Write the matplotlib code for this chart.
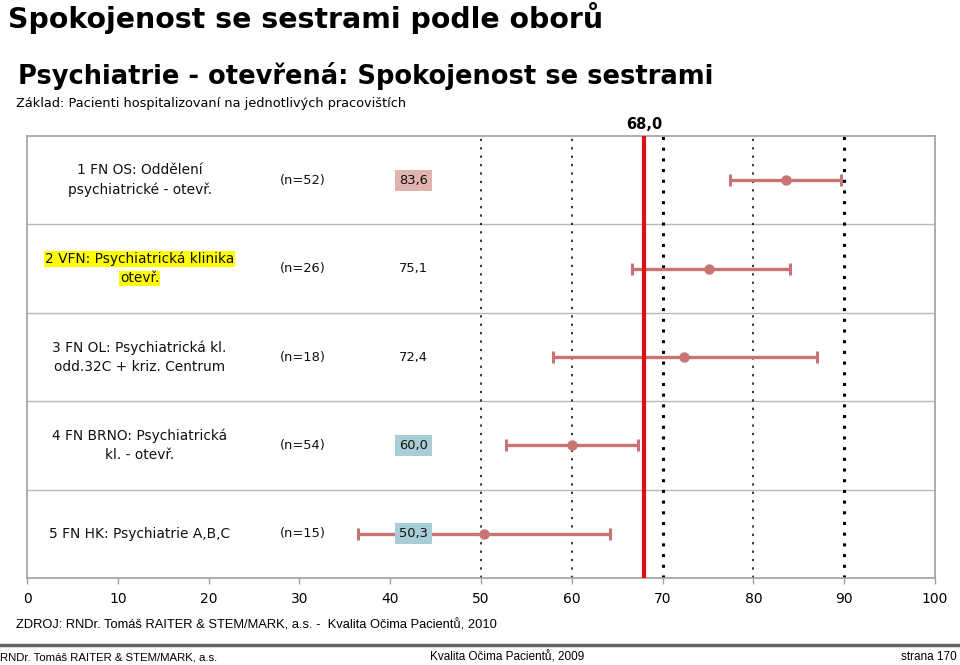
import matplotlib
matplotlib.use("Agg")
import matplotlib.pyplot as plt

# ---- data ----
labels = ["1 FN OS: Oddělení\npsychiatrické - otevř.",
          "2 VFN: Psychiatrická klinika\notevř.",
          "3 FN OL: Psychiatrická kl.\nodd.32C + kriz. Centrum",
          "4 FN BRNO: Psychiatrická\nkl. - otevř.",
          "5 FN HK: Psychiatrie A,B,C"]
n_labels = ["(n=52)", "(n=26)", "(n=18)", "(n=54)", "(n=15)"]
means = [83.6, 75.1, 72.4, 60.0, 50.3]
lower = [77.4, 66.6, 57.9, 52.8, 36.4]
upper = [89.7, 84.0, 87.0, 67.3, 64.2]
value_labels = ["83,6", "75,1", "72,4", "60,0", "50,3"]
value_bg = ["#e0b3b0", None, None, "#a9cdd6", "#a9cdd6"]
label_highlight = [False, True, False, False, False]
reference = 68.0
reference_label = "68,0"
xticks = [0, 10, 20, 30, 40, 50, 60, 70, 80, 90, 100]
grid_thin = [50, 60, 80]
grid_thick = [70, 90]

fig = plt.figure(figsize=(9.6, 6.65), dpi=100)
ax = fig.add_axes([27/960, 1-578/665, (935-27)/960, (578-136)/665])
ax.set_xlim(0, 100)
ax.set_ylim(4.5, -0.5)

err_col = "#c87474"
for i in range(len(means)):
    ax.errorbar(means[i], i, xerr=[[means[i]-lower[i]], [upper[i]-means[i]]],
                fmt='o', color=err_col, ms=6.5, lw=2.4, capsize=4.5, capthick=2.2,
                zorder=4)

for g in grid_thin:
    ax.axvline(g, color='black', lw=1.1, ls=(0, (1.5, 4)), zorder=2)
for g in grid_thick:
    ax.axvline(g, color='black', lw=2.2, ls=(0, (1.0, 2.5)), zorder=2)
for y in [0.5, 1.5, 2.5, 3.5]:
    ax.axhline(y, color='#b8b8b8', lw=1.0, zorder=1)

ax.axvline(reference, color='#dd1111', lw=3, zorder=5)
ax.text(reference, -0.55, reference_label, ha='center', va='bottom',
        fontsize=10.5, fontweight='bold', family='DejaVu Sans')

for s in ['left', 'right', 'top', 'bottom']:
    ax.spines[s].set_color('#a0a0a0')
    ax.spines[s].set_linewidth(1.2)
ax.set_yticks([])
ax.set_xticks(xticks)
ax.tick_params(axis='x', colors='#a0a0a0', length=4, width=1, labelsize=10,
               labelcolor='black', pad=6)

fs = 9.9
for i in range(len(labels)):
    lines = labels[i].split("\n")
    if len(lines) == 1:
        offs = [0.0]
    else:
        offs = [-0.11, 0.11]
    for ln, o in zip(lines, offs):
        kw = {}
        if label_highlight[i]:
            kw['bbox'] = dict(facecolor='#ffff00', edgecolor='none', pad=0.5)
        ax.text(12.4, i + o, ln, ha='center', va='center', fontsize=fs,
                color='#111111', zorder=6, **kw)
    ax.text(30.4, i, n_labels[i], ha='center', va='center', fontsize=9.4,
            color='#111111', zorder=6)
    kw = {}
    if value_bg[i]:
        kw['bbox'] = dict(facecolor=value_bg[i], edgecolor='none', pad=3)
    ax.text(42.6, i, value_labels[i], ha='center', va='center', fontsize=9.4,
            color='#111111', zorder=7, **kw)

fig.text(8/960, 1-18/665, "Spokojenost se sestrami podle oborů", fontsize=20.4,
         fontweight='bold', va='center', ha='left')
fig.text(18/960, 1-76/665, "Psychiatrie - otevřená: Spokojenost se sestrami",
         fontsize=18.5, fontweight='bold', va='center', ha='left')
fig.text(16/960, 1-103/665, "Základ: Pacienti hospitalizovaní na jednotlivých pracovištích",
         fontsize=9.3, va='center', ha='left')
fig.text(16/960, 1-625/665,
         "ZDROJ: RNDr. Tomáš RAITER & STEM/MARK, a.s. -  Kvalita Očima Pacientů, 2010",
         fontsize=9.3, family='Liberation Sans', va='center', ha='left')
fig.add_artist(plt.Line2D([0, 1], [1-645/665, 1-645/665], color='#666666', lw=2.5,
                          transform=fig.transFigure))
fig.text(0/960, 1-657/665, "RNDr. Tomáš RAITER & STEM/MARK, a.s.", fontsize=8.2,
         family='Liberation Sans', va='center', ha='left')
fig.text(430/960, 1-657/665, "Kvalita Očima Pacientů, 2009", fontsize=8.5,
         family='Liberation Sans', va='center', ha='left')
fig.text(957/960, 1-657/665, "strana 170", fontsize=8.5,
         family='Liberation Sans', va='center', ha='right')

fig.savefig("out.png", dpi=100)
